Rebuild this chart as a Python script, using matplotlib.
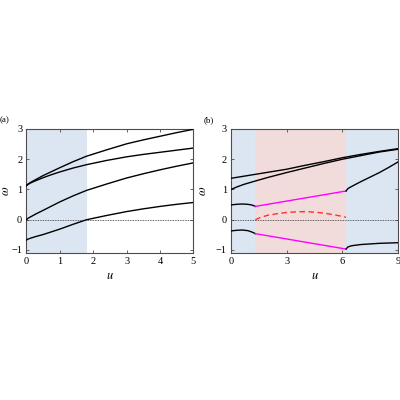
import matplotlib
matplotlib.use("Agg")
import matplotlib.pyplot as plt

plt.rcParams['font.family'] = ['Liberation Serif', 'DejaVu Serif']
plt.rcParams['mathtext.fontset'] = 'stix'

# ---------- Panel (a) data ----------
ua = [0, 0.05, 0.15, 0.3, 0.5, 0.75, 1.0, 1.4, 1.8, 2.4, 3.0, 3.5, 4.0, 4.5, 5.0]
a1 = [1.13, 1.18, 1.25, 1.34, 1.46, 1.59, 1.72, 1.92, 2.10, 2.31, 2.51, 2.64, 2.76, 2.88, 2.99]
a2 = [1.13, 1.17, 1.23, 1.30, 1.39, 1.49, 1.58, 1.71, 1.82, 1.96, 2.08, 2.16, 2.23, 2.30, 2.37]
a3 = [0.0, 0.05, 0.11, 0.20, 0.31, 0.45, 0.59, 0.79, 0.97, 1.18, 1.38, 1.52, 1.65, 1.77, 1.88]
a4 = [-0.67, -0.64, -0.60, -0.55, -0.49, -0.40, -0.31, -0.15, 0.0, 0.14, 0.27, 0.36, 0.44, 0.51, 0.57]
a_shade = (0, 1.8)
a_xticks = [0, 1, 2, 3, 4, 5]

# ---------- Panel (b) data ----------
uA = [0, 1, 2, 3, 4, 5, 6, 7, 8, 9]
bA = [1.37, 1.47, 1.57, 1.67, 1.80, 1.92, 2.05, 2.16, 2.26, 2.35]
uB = [0, 0.3, 0.7, 1.31, 2, 3, 4, 5, 6, 7, 8, 9]
bB = [1.0, 1.08, 1.17, 1.28, 1.40, 1.56, 1.71, 1.86, 2.0, 2.12, 2.24, 2.33]
u_left = [0, 0.3, 0.6, 0.9, 1.1, 1.25, 1.31]
b_mid_left = [0.49, 0.51, 0.52, 0.51, 0.49, 0.46, 0.44]
b_low_left = [-0.37, -0.35, -0.34, -0.36, -0.40, -0.44, -0.46]
u_mag = [1.31, 6.2]
b_mag_up = [0.44, 0.95]
b_mag_low = [-0.46, -0.97]
u_right = [6.2, 6.3, 6.5, 7.0, 7.5, 8.0, 8.5, 9.0]
b_up_right = [0.95, 1.03, 1.10, 1.26, 1.41, 1.56, 1.73, 1.91]
b_low_right = [-0.97, -0.90, -0.86, -0.82, -0.80, -0.78, -0.77, -0.76]
u_red = [1.31, 1.6, 2.0, 2.5, 3.0, 3.5, 4.0, 4.5, 5.0, 5.5, 6.0, 6.2]
b_red = [0.0, 0.08, 0.15, 0.20, 0.24, 0.26, 0.27, 0.25, 0.22, 0.17, 0.11, 0.08]
b_blue = [(0, 1.31), (6.2, 9)]
b_pink = (1.31, 6.2)
b_xticks = [0, 3, 6, 9]

yticks = [-1, 0, 1, 2, 3]

BLUE = '#dce6f2'
PINK = '#f2dcdb'
MAG = '#ff00ff'
RED = '#ff3030'

fig = plt.figure(figsize=(4, 4), dpi=100)
axa = fig.add_axes([0.066, 0.3675, 0.4175, 0.31])
axb = fig.add_axes([0.5775, 0.3675, 0.4175, 0.31])

def style(ax, xlim, xticks, ylab_x):
    ax.set_xlim(*xlim)
    ax.set_ylim(-1.1, 3)
    ax.set_xticks(xticks)
    ax.set_yticks(yticks)
    ax.tick_params(direction='in', length=2.5, width=0.6, labelsize=7.5,
                   top=True, right=True, color='0.3', pad=3)
    for s in ax.spines.values():
        s.set_color('0.3')
        s.set_linewidth(0.8)
    ax.axhline(0, color='0.2', lw=0.6, ls=(0, (1, 1)), zorder=2)
    ax.set_xlabel(r'$u$', fontsize=9, labelpad=3)
    ax.set_ylabel(r'$\omega$', fontsize=9)
    ax.yaxis.set_label_coords(ylab_x, 0.5)

# Panel (a)
axa.axvspan(*a_shade, color=BLUE, lw=0, zorder=0)
for y in (a1, a2, a3, a4):
    axa.plot(ua, y, color='k', lw=1.0, zorder=3)
style(axa, (0, 5), a_xticks, -0.086)

# Panel (b)
for lo, hi in b_blue:
    axb.axvspan(lo, hi, color=BLUE, lw=0, zorder=0)
axb.axvspan(*b_pink, color=PINK, lw=0, zorder=0)
axb.plot(uA, bA, color='k', lw=1.0, zorder=3)
axb.plot(uB, bB, color='k', lw=1.0, zorder=3)
axb.plot(u_left, b_mid_left, color='k', lw=1.0, zorder=3)
axb.plot(u_left, b_low_left, color='k', lw=1.0, zorder=3)
axb.plot(u_mag, b_mag_up, color=MAG, lw=1.0, zorder=3)
axb.plot(u_mag, b_mag_low, color=MAG, lw=1.0, zorder=3)
axb.plot(u_right, b_up_right, color='k', lw=1.0, zorder=3)
axb.plot(u_right, b_low_right, color='k', lw=1.0, zorder=3)
axb.plot(u_red, b_red, color=RED, lw=1.0, ls=(0, (4, 2.5)), zorder=3)
style(axb, (0, 9), b_xticks, -0.129)

fig.text(0.0, 0.70, '(a)', fontsize=6.5, ha='left', va='center')
fig.text(0.508, 0.70, '(b)', fontsize=6.5, ha='left', va='center')

fig.savefig('out.png', dpi=100)
